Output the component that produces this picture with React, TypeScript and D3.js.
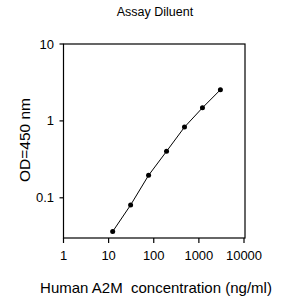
import React from "react";
import * as d3 from "d3";

const concentrations = [12.3, 30.7, 76.8, 192, 480, 1200, 3000];
const odValues = [0.0364, 0.0805, 0.196, 0.402, 0.83, 1.48, 2.54];
const xTicks = [1, 10, 100, 1000, 10000];
const yTicks = [0.1, 1, 10];
const title = "Assay Diluent";
const xLabel = "Human A2M\u00a0 concentration (ng/ml)";
const yLabel = "OD=450 nm";

export default function App() {
  const W = 286, H = 299;
  const left = 63.5, right = 245, top = 44, bottom = 238;
  const x = d3.scaleLog().domain([1, 10000]).range([left, right - 1]);
  const y = d3.scaleLog().domain([0.03, 10]).range([bottom, top]);
  const line = d3.line<number>().x((_, i) => x(concentrations[i])).y((d) => y(d));
  const font = "Arial, 'Liberation Sans', sans-serif";
  return (
    <svg width={W} height={H} style={{ position: "absolute", left: 0, top: 0, background: "#fff" }} fontFamily={font}>
      <rect x={0} y={0} width={W} height={H} fill="#fff" />
      <text x={155} y={16} fontSize={12.5} textAnchor="middle">{title}</text>
      <rect x={left} y={top} width={right - left} height={bottom - top} fill="none" stroke="#000" strokeWidth={1.2} />
      {yTicks.map((t) => (
        <g key={t}>
          <line x1={left - 4} x2={left} y1={y(t)} y2={y(t)} stroke="#000" strokeWidth={1.2} />
          <text x={54} y={y(t)} dy="0.35em" fontSize={13} textAnchor="end">{t}</text>
        </g>
      ))}
      {xTicks.map((t) => (
        <g key={t}>
          <line x1={x(t)} x2={x(t)} y1={bottom} y2={bottom + 5} stroke="#000" strokeWidth={1.2} />
          <text x={x(t)} y={255} dy="0.35em" fontSize={13} textAnchor="middle">{t}</text>
        </g>
      ))}
      <path d={line(odValues) || ""} fill="none" stroke="#000" strokeWidth={1} />
      {odValues.map((v, i) => (
        <circle key={i} cx={x(concentrations[i])} cy={y(v)} r={2.5} fill="#000" />
      ))}
      <text x={156} y={288} dy="0.35em" fontSize={15} textAnchor="middle">{xLabel}</text>
      <text transform={`translate(25,140) rotate(-90)`} dy="0.35em" fontSize={15.5} textAnchor="middle">{yLabel}</text>
    </svg>
  );
}
